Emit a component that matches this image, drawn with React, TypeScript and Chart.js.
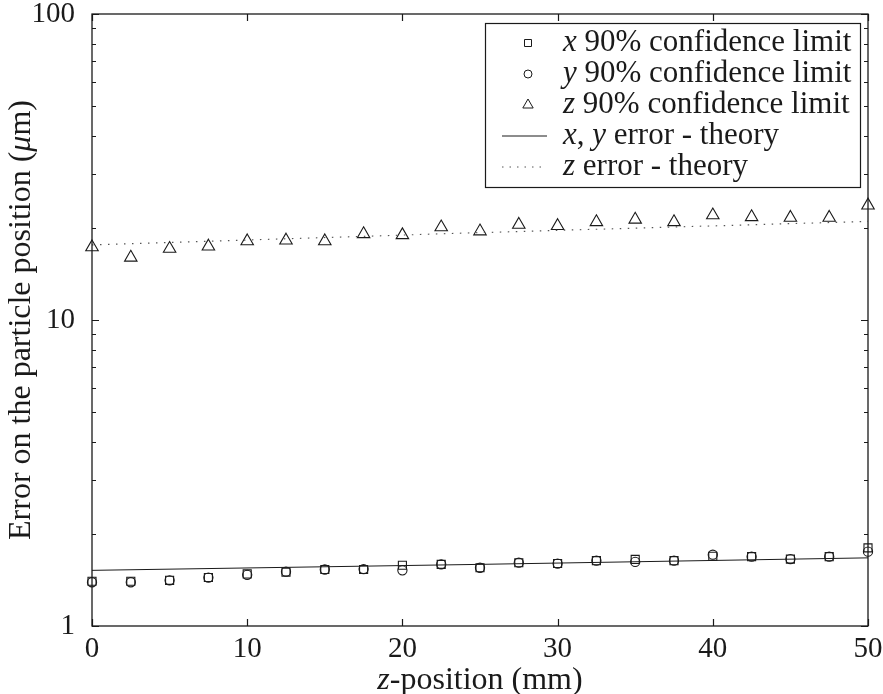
import React, { useEffect, useRef } from "react";
import { Chart, registerables } from "chart.js";

Chart.register(...registerables);

// ---- data ----
const zPositions = [0, 2.5, 5, 7.5, 10, 12.5, 15, 17.5, 20, 22.5, 25, 27.5, 30, 32.5, 35, 37.5, 40, 42.5, 45, 47.5, 50];
const xConfidence = [1.40, 1.40, 1.41, 1.44, 1.48, 1.50, 1.53, 1.53, 1.58, 1.59, 1.55, 1.61, 1.60, 1.635, 1.65, 1.635, 1.69, 1.685, 1.655, 1.685, 1.80];
const yConfidence = [1.39, 1.39, 1.41, 1.44, 1.47, 1.505, 1.53, 1.535, 1.52, 1.59, 1.55, 1.61, 1.60, 1.635, 1.62, 1.635, 1.71, 1.685, 1.655, 1.685, 1.75];
const zConfidence = [17.3, 16.0, 17.1, 17.4, 18.1, 18.2, 18.1, 19.1, 18.95, 20.1, 19.5, 20.5, 20.3, 20.9, 21.3, 20.9, 22.0, 21.7, 21.6, 21.6, 23.7];
const theoryPositions = [0, 25, 50];
const xyTheory = [1.52, 1.59, 1.67];
const zTheory = [17.6, 19.3, 21.0];
const xTickValues = [0, 10, 20, 30, 40, 50];
const yTickValues = [1, 10, 100];
const yMinorTicks = [2, 3, 4, 5, 6, 7, 8, 9, 20, 30, 40, 50, 60, 70, 80, 90];

const FONT_FAMILY = "'Liberation Serif', 'Times New Roman', serif";
const INK = "#1a1a1a";

type Seg = { t: string; i?: boolean };

function segFont(size: number, italic?: boolean) {
  return `${italic ? "italic " : ""}${size}px ${FONT_FAMILY}`;
}

function richWidth(ctx: CanvasRenderingContext2D, segs: Seg[], size: number) {
  let w = 0;
  for (const s of segs) {
    ctx.font = segFont(size, s.i);
    w += ctx.measureText(s.t).width;
  }
  return w;
}

function drawRich(ctx: CanvasRenderingContext2D, segs: Seg[], x: number, y: number, size: number, align: "left" | "center") {
  let cx = x;
  if (align === "center") cx = x - richWidth(ctx, segs, size) / 2;
  ctx.textAlign = "left";
  ctx.textBaseline = "middle";
  for (const s of segs) {
    ctx.font = segFont(size, s.i);
    ctx.fillText(s.t, cx, y);
    cx += ctx.measureText(s.t).width;
  }
}

const legendRows: { kind: string; segs: Seg[] }[] = [
  { kind: "rect", segs: [{ t: "x", i: true }, { t: " 90% confidence limit" }] },
  { kind: "circle", segs: [{ t: "y", i: true }, { t: " 90% confidence limit" }] },
  { kind: "triangle", segs: [{ t: "z", i: true }, { t: " 90% confidence limit" }] },
  { kind: "solid", segs: [{ t: "x", i: true }, { t: ", " }, { t: "y", i: true }, { t: " error - theory" }] },
  { kind: "dotted", segs: [{ t: "z", i: true }, { t: " error - theory" }] },
];

const framePlugin = {
  id: "framePlugin",
  afterDraw(chart: any) {
    const ctx: CanvasRenderingContext2D = chart.ctx;
    const { left, right, top, bottom } = chart.chartArea;
    const xs = chart.scales.x;
    const ys = chart.scales.y;
    ctx.save();
    ctx.strokeStyle = INK;
    ctx.lineWidth = 1.2;
    ctx.beginPath();
    for (const v of xTickValues) {
      const px = Math.round(xs.getPixelForValue(v)) + 0.5;
      ctx.moveTo(px, bottom);
      ctx.lineTo(px, bottom - 7);
      ctx.moveTo(px, top);
      ctx.lineTo(px, top + 7);
    }
    for (const v of yTickValues) {
      const py = Math.round(ys.getPixelForValue(v)) + 0.5;
      ctx.moveTo(left, py);
      ctx.lineTo(left + 7, py);
      ctx.moveTo(right, py);
      ctx.lineTo(right - 7, py);
    }
    for (const v of yMinorTicks) {
      const py = Math.round(ys.getPixelForValue(v)) + 0.5;
      ctx.moveTo(left, py);
      ctx.lineTo(left + 4, py);
      ctx.moveTo(right, py);
      ctx.lineTo(right - 4, py);
    }
    ctx.stroke();
    ctx.lineWidth = 1.3;
    ctx.strokeRect(left, top, right - left, bottom - top);

    // axis titles
    ctx.fillStyle = INK;
    drawRich(ctx, [{ t: "z", i: true }, { t: "-position (mm)" }], (left + right) / 2, 681, 32, "center");
    ctx.save();
    ctx.translate(22, (top + bottom) / 2);
    ctx.rotate(-Math.PI / 2);
    drawRich(ctx, [{ t: "Error on the particle position (" }, { t: "μ", i: true }, { t: "m)" }], 0, 0, 32, "center");
    ctx.restore();

    // legend
    const lx = 485, ly = 23, lw = 375, lh = 164;
    ctx.fillStyle = "#ffffff";
    ctx.fillRect(lx, ly, lw, lh);
    ctx.lineWidth = 1.2;
    ctx.strokeStyle = INK;
    ctx.strokeRect(lx + 0.5, ly + 0.5, lw, lh);
    const mx = 528;
    legendRows.forEach((row, i) => {
      const ry = 43 + i * 31;
      ctx.strokeStyle = INK;
      ctx.lineWidth = 1;
      ctx.setLineDash([]);
      ctx.beginPath();
      if (row.kind === "rect") {
        ctx.rect(mx - 3.5, ry - 3.5, 7, 7);
      } else if (row.kind === "circle") {
        ctx.arc(mx, ry, 4, 0, Math.PI * 2);
      } else if (row.kind === "triangle") {
        const r = 6;
        ctx.moveTo(mx, ry - r);
        ctx.lineTo(mx + r * 0.866, ry + r / 2);
        ctx.lineTo(mx - r * 0.866, ry + r / 2);
        ctx.closePath();
      } else if (row.kind === "solid") {
        ctx.moveTo(502, ry);
        ctx.lineTo(547, ry);
      } else {
        ctx.strokeStyle = "#555";
        ctx.setLineDash([1.5, 6]);
        ctx.moveTo(502, ry);
        ctx.lineTo(547, ry);
      }
      ctx.stroke();
      ctx.setLineDash([]);
      ctx.fillStyle = INK;
      drawRich(ctx, row.segs, 563, ry, 31, "left");
    });
    ctx.restore();
  },
};

export default function App() {
  const ref = useRef<HTMLCanvasElement | null>(null);
  useEffect(() => {
    if (!ref.current) return;
    const pts = (vals: number[]) => zPositions.map((x, i) => ({ x, y: vals[i] }));
    const tpts = (vals: number[]) => theoryPositions.map((x, i) => ({ x, y: vals[i] }));
    const markerBase = {
      showLine: false,
      clip: false,
      backgroundColor: "rgba(0,0,0,0)",
      borderColor: INK,
      pointBackgroundColor: "rgba(0,0,0,0)",
      pointBorderColor: INK,
      pointBorderWidth: 1.1,
    };
    const chart = new Chart(ref.current, {
      type: "scatter",
      data: {
        datasets: [
          { label: "xy theory", data: tpts(xyTheory), showLine: true, borderColor: INK, borderWidth: 1, pointRadius: 0, fill: false },
          { label: "z theory", data: tpts(zTheory), showLine: true, borderColor: "#555", borderWidth: 1.2, borderDash: [1.5, 6.5], pointRadius: 0, fill: false },
          { label: "x 90% confidence limit", data: pts(xConfidence), ...markerBase, pointStyle: "rect", pointRadius: 5.7 },
          { label: "y 90% confidence limit", data: pts(yConfidence), ...markerBase, pointStyle: "circle", pointRadius: 4.6 },
          { label: "z 90% confidence limit", data: pts(zConfidence), ...markerBase, pointStyle: "triangle", pointRadius: 7.2 },
        ] as any,
      },
      options: {
        responsive: false,
        animation: false,
        devicePixelRatio: 1,
        events: [],
        layout: { padding: { top: 14, right: 15, left: 0, bottom: 0 } },
        plugins: { legend: { display: false }, tooltip: { enabled: false } },
        scales: {
          x: {
            type: "linear",
            min: 0,
            max: 50,
            grid: { display: false, drawTicks: false },
            border: { display: false },
            afterBuildTicks: (s: any) => { s.ticks = xTickValues.map((v) => ({ value: v })); },
            afterFit: (s: any) => { s.height = 68; s.paddingLeft = 0; s.paddingRight = 0; },
            ticks: { color: INK, padding: 6, maxRotation: 0, font: { family: FONT_FAMILY, size: 29 }, callback: (v: any) => String(v) },
          },
          y: {
            type: "logarithmic",
            min: 1,
            max: 100,
            grid: { display: false, drawTicks: false },
            border: { display: false },
            afterBuildTicks: (s: any) => { s.ticks = yTickValues.map((v) => ({ value: v })); },
            afterFit: (s: any) => { s.width = 92; s.paddingTop = 0; s.paddingBottom = 0; },
            ticks: { color: INK, padding: 17, font: { family: FONT_FAMILY, size: 29 }, callback: (v: any) => String(v) },
          },
        },
      } as any,
      plugins: [framePlugin],
    });
    return () => chart.destroy();
  }, []);
  return (
    <div style={{ position: "fixed", left: 0, top: 0, width: 883, height: 694, background: "#fff" }}>
      <canvas ref={ref} width={883} height={694} style={{ display: "block" }} />
    </div>
  );
}
